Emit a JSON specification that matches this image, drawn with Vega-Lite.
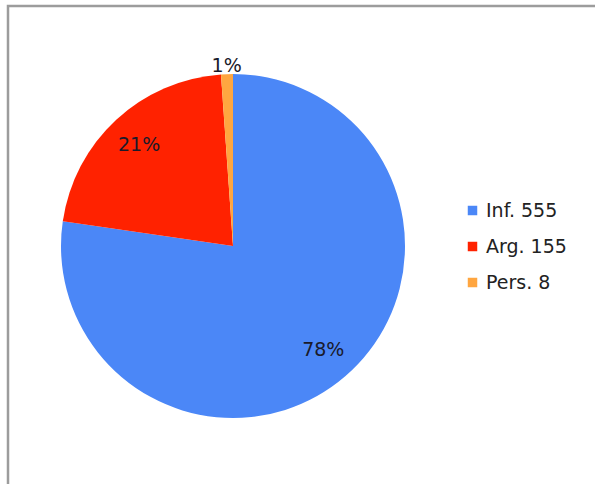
{
  "$schema": "https://vega.github.io/schema/vega-lite/v6.json",
  "width": 600,
  "height": 490,
  "autosize": {"type": "none"},
  "padding": {"left": 8, "top": 6, "right": 0, "bottom": 0},
  "background": "white",
  "view": {"stroke": "#9c9c9c", "strokeWidth": 2.5},
  "config": {
    "view": {"stroke": "#9c9c9c", "strokeWidth": 2.5},
    "font": "DejaVu Sans"
  },
  "data": {
    "values": [
      {"cat": "Inf. 555", "count": 555, "pct": "78%", "ord": 1},
      {"cat": "Arg. 155", "count": 155, "pct": "21%", "ord": 2},
      {"cat": "Pers. 8", "count": 8, "pct": "1%", "ord": 3}
    ]
  },
  "layer": [
    {
      "mark": {"type": "point", "opacity": 0},
      "encoding": {"x": {"datum": 0, "type": "quantitative", "axis": null}}
    },
    {
      "mark": {"type": "arc", "outerRadius": 172, "x": 225, "y": 240},
      "encoding": {
        "theta": {"field": "count", "type": "quantitative", "stack": true},
        "order": {"field": "ord", "type": "quantitative"},
        "color": {
          "field": "cat",
          "type": "nominal",
          "scale": {"domain": ["Inf. 555", "Arg. 155", "Pers. 8"], "range": ["#4b87f7", "#ff2200", "#ffa640"]},
          "legend": {
            "title": null,
            "orient": "none",
            "legendX": 455,
            "legendY": 195,
            "symbolType": "square",
            "symbolSize": 90,
            "symbolStrokeWidth": 0,
            "labelFontSize": 19,
            "labelColor": "#222222",
            "labelFont": "DejaVu Sans",
            "labelOffset": 4,
            "rowPadding": 16
          }
        }
      }
    },
    {
      "mark": {"type": "text", "x": 225, "y": 240, "radius": {"expr": "datum.count < 50 ? 180 : 138"}, "fontSize": 19, "color": "#1a1a2a"},
      "encoding": {
        "theta": {"field": "count", "type": "quantitative", "stack": true},
        "order": {"field": "ord", "type": "quantitative"},
        "text": {"field": "pct"}
      }
    }
  ]
}
